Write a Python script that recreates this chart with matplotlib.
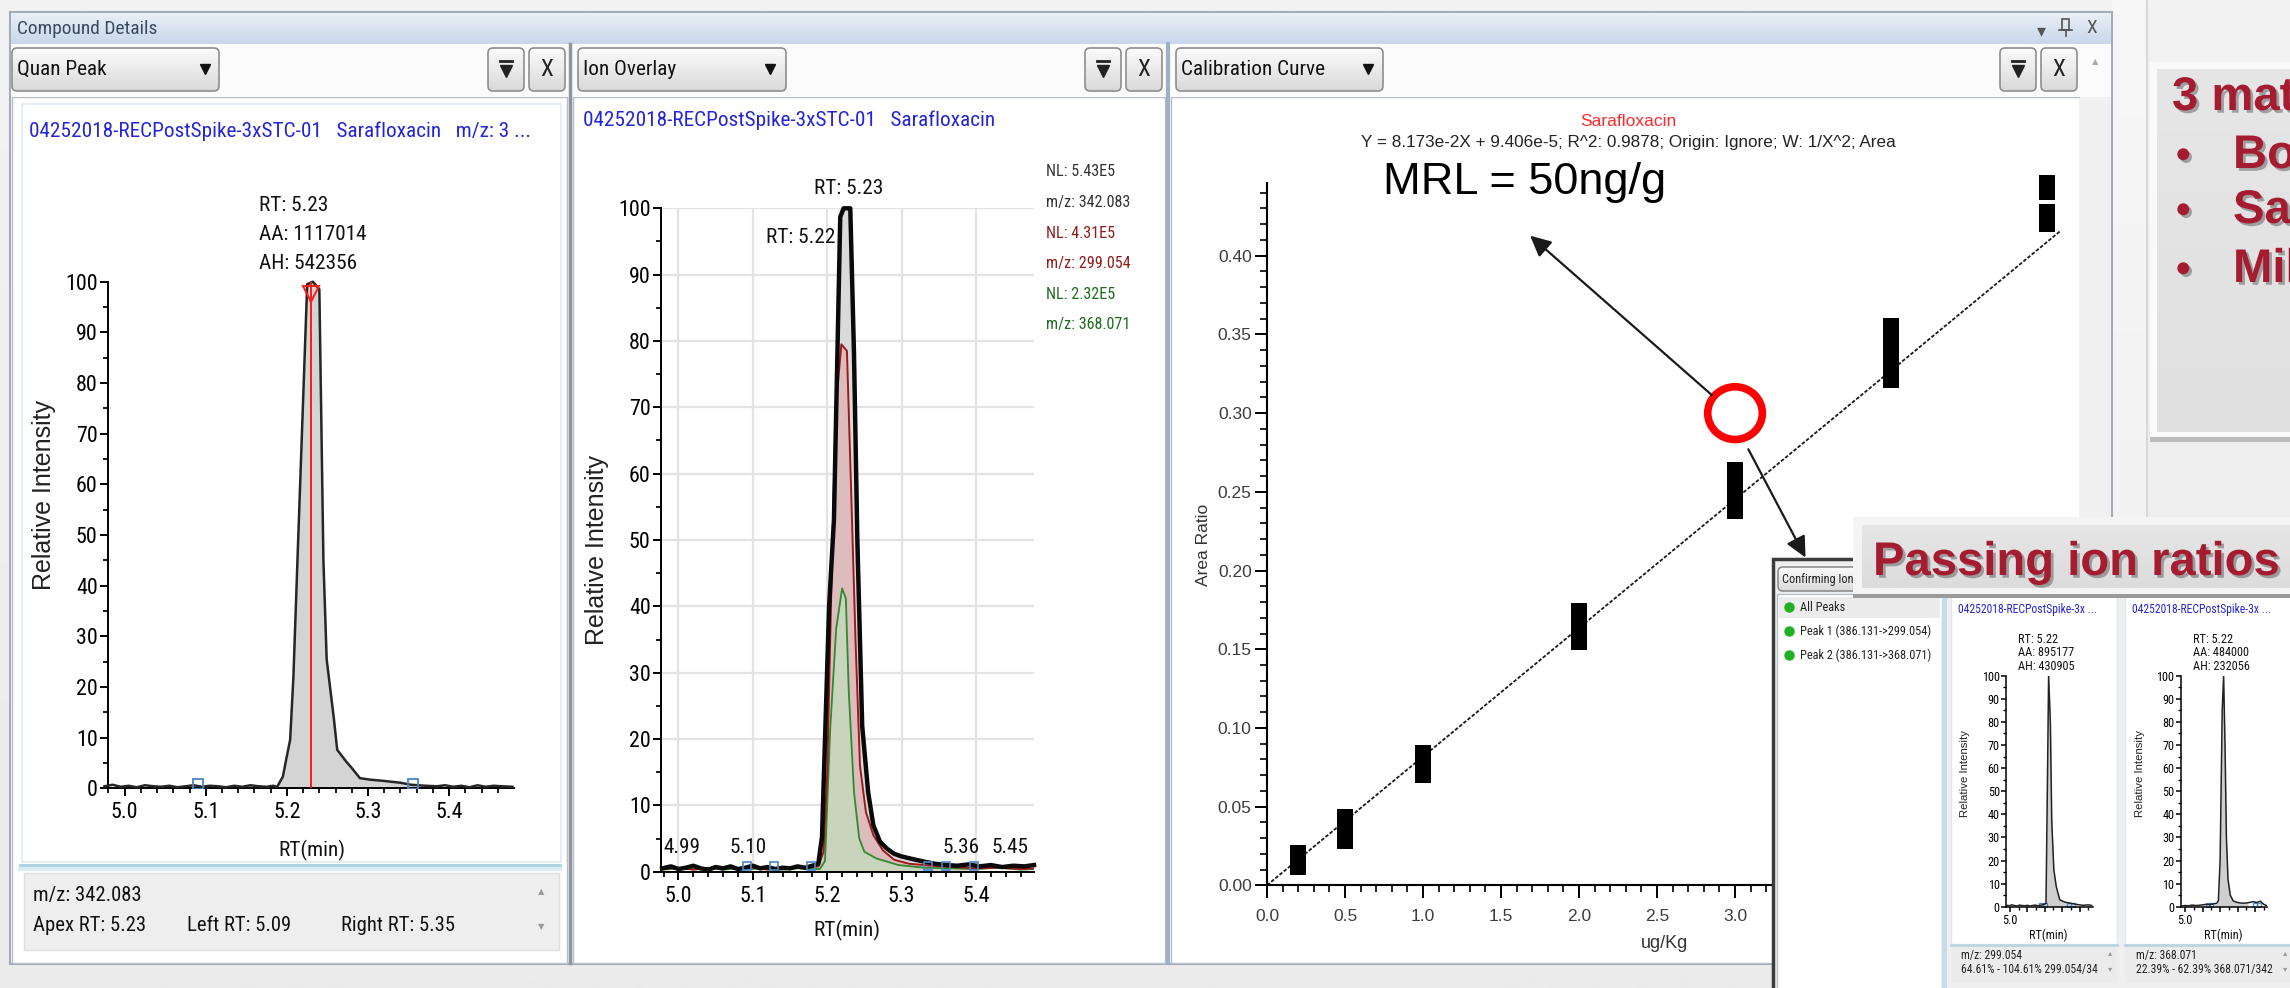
"""Sarafloxacin 'Compound Details' screen: quan peak, ion overlay, calibration
curve and the confirming-ion inset. Window chrome is drawn on a pixel-space
background axes (y pointing down) so positions can be read off the screenshot."""
import numpy as np
import matplotlib
matplotlib.use("Agg")
import matplotlib.pyplot as plt
import matplotlib.colors as mcolors
from matplotlib import font_manager as fm
from matplotlib import patches as mp
from matplotlib import patheffects as pe
from matplotlib.ticker import MultipleLocator, FormatStrFormatter, FuncFormatter

W, H = 2290, 988

# ---------------- values ----------------
# Quan Peak, m/z 342.083 (relative intensity vs RT, min)
qp_rt = [4.975, 4.985, 4.995, 5.005, 5.015, 5.025, 5.035, 5.045, 5.055, 5.065, 5.075,
         5.085, 5.095, 5.105, 5.115, 5.125, 5.135, 5.145, 5.155, 5.165, 5.175,
         5.183, 5.188, 5.195, 5.199, 5.204, 5.208, 5.213, 5.225, 5.232, 5.240, 5.245,
         5.249, 5.258, 5.262, 5.273, 5.280, 5.290, 5.303, 5.317, 5.340, 5.353, 5.371,
         5.385, 5.395, 5.405, 5.415, 5.425, 5.435, 5.445, 5.455, 5.465, 5.478]
qp_int = [0.4, 0.7, 0.3, 0.5, 0.2, 0.6, 0.4, 0.3, 0.5, 0.2, 0.4,
          0.6, 0.3, 0.5, 0.4, 0.2, 0.5, 0.3, 0.6, 0.4, 0.3,
          0.5, 0.3, 2.3, 5.6, 9.6, 22.0, 45.0, 99.5, 100.0, 98.5, 45.0,
          25.5, 13.6, 7.6, 5.3, 4.0, 2.0, 1.7, 1.5, 1.1, 0.7, 0.5,
          0.4, 0.6, 0.3, 0.5, 0.2, 0.6, 0.3, 0.5, 0.4, 0.3]
qp_apex = 5.23
qp_bounds = [5.09, 5.355]

# Ion overlay, all traces scaled to the 342.083 trace
ov_rt_342 = [4.978, 4.990, 5.000, 5.010, 5.020, 5.030, 5.040, 5.050, 5.060, 5.070, 5.080,
             5.090, 5.100, 5.110, 5.120, 5.130, 5.140, 5.150, 5.160, 5.170, 5.180,
             5.188, 5.193, 5.2025, 5.209, 5.2175, 5.222, 5.231, 5.236, 5.2405, 5.247,
             5.255, 5.262, 5.271, 5.280, 5.290, 5.300, 5.315, 5.331, 5.345, 5.360,
             5.375, 5.390, 5.405, 5.420, 5.435, 5.450, 5.465, 5.478]
ov_int_342 = [0.5, 0.8, 0.4, 0.6, 0.9, 0.5, 0.3, 0.7, 0.5, 0.8, 0.4,
              0.6, 0.9, 0.5, 0.7, 0.4, 0.6, 0.5, 0.8, 0.6, 0.9,
              1.2, 5.3, 40.0, 53.0, 98.7, 100.0, 100.0, 78.0, 50.0, 22.0,
              12.0, 7.0, 4.5, 3.5, 2.7, 2.3, 1.9, 1.5, 1.2, 1.0,
              0.9, 1.1, 0.8, 1.0, 0.7, 0.9, 0.8, 1.0]
ov_rt_299 = [4.978, 5.000, 5.020, 5.040, 5.060, 5.080, 5.100, 5.120, 5.140, 5.160, 5.180,
             5.188, 5.195, 5.200, 5.205, 5.2115, 5.219, 5.2265, 5.232, 5.238, 5.244,
             5.252, 5.262, 5.275, 5.290, 5.310, 5.340, 5.370, 5.400, 5.430, 5.460, 5.478]
ov_int_299 = [0.4, 0.6, 0.3, 0.5, 0.7, 0.4, 0.6, 0.3, 0.5, 0.6, 0.7,
              0.8, 3.0, 15.0, 40.0, 70.0, 79.5, 78.5, 58.0, 35.0, 16.0,
              9.0, 5.5, 3.2, 1.8, 1.2, 0.9, 0.7, 0.5, 0.6, 0.4, 0.5]
ov_rt_368 = [4.978, 5.000, 5.020, 5.040, 5.060, 5.080, 5.100, 5.120, 5.140, 5.160, 5.180,
             5.190, 5.197, 5.204, 5.212, 5.220, 5.225, 5.229, 5.236, 5.243, 5.250,
             5.266, 5.296, 5.330, 5.370, 5.400, 5.430, 5.460, 5.478]
ov_int_368 = [0.3, 0.5, 0.4, 0.6, 0.3, 0.5, 0.4, 0.6, 0.3, 0.5, 0.4,
              0.4, 1.6, 21.5, 36.6, 42.7, 41.2, 27.0, 12.0, 5.0, 3.0,
              2.0, 1.0, 0.6, 0.5, 0.4, 0.6, 0.3, 0.4]
ov_marks = [5.092, 5.129, 5.178, 5.336, 5.360, 5.397]
ov_peak_lab = ["4.99", "5.10", "5.36", "5.45"]
ov_peak_lab_rt = [5.005, 5.094, 5.380, 5.446]
ov_nl = ["NL: 5.43E5", "m/z: 342.083", "NL: 4.31E5", "m/z: 299.054", "NL: 2.32E5", "m/z: 368.071"]

# Calibration: each level is a low-high block of area ratio
cal_x = [0.2, 0.5, 1.0, 2.0, 3.0, 4.0, 5.0, 5.0]
cal_lo = [0.0064, 0.0234, 0.0649, 0.1496, 0.2326, 0.3160, 0.4151, 0.4355]
cal_hi = [0.0255, 0.0483, 0.0894, 0.1795, 0.2692, 0.3605, 0.4330, 0.4513]
fit_slope, fit_icpt, fit_xmax = 8.173e-2, 9.406e-5, 5.09
mrl_x, mrl_y = 3.0, 0.30

# Confirming ions inset
ci_rt_299 = [4.980, 4.995, 5.010, 5.025, 5.040, 5.055, 5.070, 5.085, 5.100, 5.115, 5.130,
             5.145, 5.160, 5.175, 5.185, 5.195, 5.207, 5.217, 5.222, 5.232, 5.240,
             5.252, 5.266, 5.286, 5.315, 5.355, 5.390, 5.420, 5.450, 5.470]
ci_int_299 = [0.6, 0.4, 0.8, 0.5, 0.3, 0.7, 0.5, 0.4, 0.6, 0.3, 0.5,
              0.7, 0.4, 0.6, 0.8, 1.0, 1.4, 66.0, 100.0, 80.0, 37.0,
              16.0, 8.7, 3.0, 2.0, 1.4, 0.9, 0.6, 0.8, 0.5]
ci_rt_368 = [4.980, 5.000, 5.020, 5.040, 5.060, 5.080, 5.100, 5.120, 5.140, 5.160, 5.180,
             5.190, 5.200, 5.212, 5.220, 5.228, 5.236, 5.245, 5.258, 5.275, 5.300,
             5.330, 5.360, 5.390, 5.410, 5.430, 5.450, 5.465]
ci_int_368 = [0.3, 0.5, 0.4, 0.7, 0.5, 0.6, 0.8, 1.0, 0.9, 1.2, 1.5,
              2.5, 20.0, 85.0, 100.0, 70.0, 30.0, 12.0, 5.0, 2.5, 1.8,
              1.5, 1.7, 2.2, 1.8, 2.4, 1.0, 0.5]
ci_marks_299 = [5.180, 5.200, 5.340, 5.360]
ci_marks_368 = [5.130, 5.150, 5.400, 5.420]
ci_list = ["All Peaks", "Peak 1 (386.131->299.054)", "Peak 2 (386.131->368.071)"]

# ---------------- fonts ----------------
def pick_narrow():
    """The screenshot uses a narrow UI face; take the closest one installed."""
    fonts = fm.fontManager.ttflist
    names = {f.name for f in fonts}
    for fam, scale in (("Liberation Sans Narrow", 1.0), ("Arial Narrow", 1.0),
                       ("Noto Sans Condensed", 1.0), ("Roboto Condensed", 0.93),
                       ("Open Sans Condensed", 0.95)):
        if fam in names:
            return fm.FontProperties(family=fam), scale
    for fam in ("Noto Sans", "Open Sans", "Roboto"):
        if any(f.name == fam and f.stretch == "condensed" for f in fonts):
            return fm.FontProperties(family=fam, stretch="condensed"), 1.0
    return fm.FontProperties(family="Liberation Sans"), 0.84

NFP, NS = pick_narrow()
plt.rcParams.update({"font.family": ["Liberation Sans", "DejaVu Sans"], "font.size": 12})
BLUE, RED = "#2424d8", "#a51c30"
SHADOW = [pe.SimplePatchShadow(offset=(2, -2), shadow_rgbFace="#000000", alpha=0.3), pe.Normal()]


def nfp(size):
    p = NFP.copy()
    p.set_size(size * NS)
    return p


def pixel_space(ax):
    ax.set_xlim(0, W); ax.set_ylim(H, 0); ax.axis("off")


def box(ax, x0, y0, x1, y1, fc, ec="none", lw=0.0, z=1, r=None):
    if r:
        p = mp.FancyBboxPatch((x0, y0), x1 - x0, y1 - y0, boxstyle=f"round,pad=0,rounding_size={r}",
                              fc=fc, ec=ec, lw=lw, zorder=z)
    else:
        p = mp.Rectangle((x0, y0), x1 - x0, y1 - y0, fc=fc, ec=ec, lw=lw, zorder=z)
    ax.add_patch(p)
    return p


def grad(ax, x0, y0, x1, y1, c0, c1, z=1, clip=None):
    rgb = np.linspace(mcolors.to_rgb(c0), mcolors.to_rgb(c1), 48)[:, None, :]
    im = ax.imshow(rgb, extent=(x0, x1, y1, y0), aspect="auto", interpolation="bilinear", zorder=z)
    if clip is not None:
        im.set_clip_path(clip)
    return im


def nt(ax, x, y, s, size, **kw):
    kw.setdefault("va", "center")
    return ax.text(x, y, s, fontproperties=nfp(size), **kw)


def combo(ax, x0, y0, x1, y1, label=None, arrow_x=None, z=2):
    p = box(ax, x0, y0, x1, y1, "none", ec="#8e8e8e", lw=1.2, z=z + 1, r=5)
    grad(ax, x0, y0, x1, y1, "#fbfbfb", "#d9d9d9", z=z, clip=p)
    if label:
        nt(ax, x0 + 5, (y0 + y1) / 2, label, 16.5, color="#111", zorder=z + 2)
    if arrow_x:
        ax.plot(arrow_x, (y0 + y1) / 2, marker="v", ms=7, color="#111", zorder=z + 2)


def buttons(ax, x0, y0, y1):
    combo(ax, x0, y0, x0 + 36, y1)
    combo(ax, x0 + 41, y0, x0 + 77, y1)
    cx, cy = x0 + 18, (y0 + y1) / 2
    ax.plot([cx - 6, cx + 6], [cy - 8, cy - 8], color="#222", lw=2, zorder=5)
    ax.plot(cx, cy + 2, marker="v", ms=9, color="#222", zorder=5)
    nt(ax, x0 + 59, cy, "X", 18, ha="center", color="#222", zorder=5)


def px_ax(x0, y0, x1, y1, z=2):
    ax = fig.add_axes([x0 / W, 1 - y1 / H, (x1 - x0) / W, (y1 - y0) / H], zorder=z)
    ax.patch.set_alpha(0)
    return ax


def narrow_ticks(ax, size):
    for lab in ax.get_xticklabels(which="both") + ax.get_yticklabels(which="both"):
        lab.set_fontproperties(nfp(size))


def style_chrom(ax, xlim, size, tick=(6, 3.5), pad=(4, 1.5), lw=1.4, xminor=0.02):
    ax.set_xlim(*xlim); ax.set_ylim(0, 100)
    ax.spines[["top", "right"]].set_visible(False)
    ax.spines[["left", "bottom"]].set_linewidth(lw)
    ax.xaxis.set_major_locator(MultipleLocator(0.1))
    ax.xaxis.set_minor_locator(MultipleLocator(xminor))
    ax.yaxis.set_major_locator(MultipleLocator(10))
    ax.yaxis.set_minor_locator(MultipleLocator(5))
    ax.xaxis.set_major_formatter(FormatStrFormatter("%.1f"))
    ax.yaxis.set_major_formatter(FormatStrFormatter("%d"))
    ax.tick_params(which="major", length=tick[0], width=lw)
    ax.tick_params(which="minor", length=tick[1], width=lw * 0.9)
    ax.tick_params(axis="x", which="major", pad=pad[0])
    ax.tick_params(axis="y", which="major", pad=pad[1])


fig = plt.figure(figsize=(W / 100, H / 100), dpi=100)
fig.patch.set_facecolor("#efefef")

# ---------------- background chrome ----------------
bg = fig.add_axes([0, 0, 1, 1], zorder=0)
pixel_space(bg)
grad(bg, 0, 0, W, H, "#f2f2f2", "#ebebeb", z=0)
grad(bg, 2112, 0, 2148, H, "#f7f7f7", "#eeeeee", z=0.5)
bg.plot([2147, 2147], [0, H], color="#d2d2d2", lw=1.2, zorder=0.6)

# note box on the slide, cut by the right edge
box(bg, 2150, 66, 2300, 442, "#bdbdbd")
box(bg, 2150, 62, 2300, 437, "#fafafa")
grad(bg, 2157, 70, 2300, 432, "#e6e6e6", "#e0e0e0", z=1.2)
bg.text(2172, 110, "3 mat", fontsize=34, fontweight="bold", color=RED, va="baseline", path_effects=SHADOW)
for yb, word in zip([168, 223, 282], ["Bo", "Sa", "Mil"]):
    bg.text(2176, yb, "\u2022", fontsize=30, fontweight="bold", color=RED, va="baseline", path_effects=SHADOW)
    bg.text(2233, yb, word, fontsize=34, fontweight="bold", color=RED, va="baseline", path_effects=SHADOW)

# software window
box(bg, 10, 12, 2112, 964, "#f7f8fa", ec="#a3acb8", lw=1.5)
grad(bg, 11, 13, 2111, 44, "#e9eff7", "#c9d7ea", z=1.5)
nt(bg, 17, 29, "Compound Details", 15, color="#3b4b5d")
bg.text(2041, 31, "\u25be", fontsize=13, color="#555", ha="center", va="center", family="DejaVu Sans")
box(bg, 2062, 19, 2069, 30, "none", ec="#555", lw=1.2, z=3)
bg.plot([2059, 2072], [30, 30], color="#555", lw=1.2)
bg.plot([2065.5, 2065.5], [30, 36], color="#555", lw=1.2)
nt(bg, 2092, 28, "X", 15, ha="center", color="#555")
box(bg, 11, 44, 2111, 97, "#fbfbfb", z=1.5)

combo(bg, 12, 48, 219, 91, "Quan Peak", arrow_x=205)
buttons(bg, 488, 48, 91)
combo(bg, 578, 48, 786, 91, "Ion Overlay", arrow_x=770)
buttons(bg, 1085, 48, 91)
combo(bg, 1176, 48, 1383, 91, "Calibration Curve", arrow_x=1368)
buttons(bg, 2000, 48, 91)
bg.text(2095, 62, "\u25b2", fontsize=6, color="#aaa", ha="center", va="center", family="DejaVu Sans")

# panel bodies
box(bg, 12, 97, 567, 963, "white", ec="#b5bec9", lw=1)
box(bg, 22, 104, 561, 862, "none", ec="#e3eaf2", lw=1.2, z=2)
box(bg, 573, 97, 1165, 963, "white", ec="#b5bec9", lw=1)
box(bg, 1171, 97, 2080, 963, "white", ec="#b5bec9", lw=1)
box(bg, 2080, 97, 2111, 963, "#f0f0f0")
bg.plot([569.5, 569.5], [44, 963], color="#8f959c", lw=2.5, zorder=2)
bg.plot([1168, 1168], [44, 963], color="#9fb0c2", lw=3, zorder=2)

# panel 1 footer
bg.plot([20, 560], [865, 865], color="#a8cfe0", lw=2, zorder=2)
bg.plot([20, 560], [869, 869], color="#d9ebf3", lw=3, zorder=2)
box(bg, 24, 873, 559, 950, "#eeeeee", ec="#dedede", lw=1, z=2)
nt(bg, 33, 895, "m/z: 342.083", 16, color="#111")
nt(bg, 33, 925, "Apex RT: 5.23", 16, color="#111")
nt(bg, 187, 925, "Left RT: 5.09", 16, color="#111")
nt(bg, 341, 925, "Right RT: 5.35", 16, color="#111")
bg.text(541, 892, "\u25b2", fontsize=6, color="#999", ha="center", va="center", family="DejaVu Sans")
bg.text(541, 927, "\u25bc", fontsize=6, color="#999", ha="center", va="center", family="DejaVu Sans")

# panel titles and peak annotations
nt(bg, 29, 131, "04252018-RECPostSpike-3xSTC-01   Sarafloxacin   m/z: 3 ...", 16.5, color=BLUE)
nt(bg, 583, 120, "04252018-RECPostSpike-3xSTC-01   Sarafloxacin", 16.5, color=BLUE)
for yy, s in zip([205, 234, 263], ["RT: 5.23", "AA: 1117014", "AH: 542356"]):
    nt(bg, 259, yy, s, 16.5, color="#111")
nl_cols = ["#333333", "#333333", "#8e1b1b", "#8e1b1b", "#1d6b1d", "#1d6b1d"]
for i, (s, c) in enumerate(zip(ov_nl, nl_cols)):
    nt(bg, 1046, 172 + i * 30.5, s, 12.5, color=c)
bg.text(44, 495, "Relative Intensity", fontsize=18, rotation=90, ha="center", va="center", color="#222")
bg.text(597, 550, "Relative Intensity", fontsize=18, rotation=90, ha="center", va="center", color="#222")
nt(bg, 312, 850, "RT(min)", 16.5, ha="center", color="#111")
nt(bg, 847, 930, "RT(min)", 16.5, ha="center", color="#111")

# calibration titles
bg.text(1628, 121, "Sarafloxacin", fontsize=12.5, color="#ff2a2a", ha="center", va="center")
bg.text(1628, 143, "Y = 8.173e-2X + 9.406e-5; R^2: 0.9878; Origin: Ignore; W: 1/X^2; Area",
        fontsize=12.3, color="#222", ha="center", va="center")
bg.text(1383, 194, "MRL = 50ng/g", fontsize=32.5, color="black", va="baseline", zorder=4)
bg.text(1203, 545, "Area Ratio", fontsize=12.5, rotation=90, ha="center", va="center", color="#333")
bg.text(1664, 943, "ug/Kg", fontsize=13, ha="center", va="center", color="#333")

# ---------------- Quan Peak ----------------
ax1 = px_ax(108, 281.7, 513.6, 788.3)
style_chrom(ax1, (4.9794, 5.4795), 17)
narrow_ticks(ax1, 17)
rt, it = np.array(qp_rt), np.array(qp_int)
ax1.fill_between(rt, it, 0, where=(rt >= qp_bounds[0]) & (rt <= qp_bounds[1]),
                 color="#d4d4d4", lw=0, interpolate=True, zorder=1)
ax1.plot(rt, it, color="#262626", lw=1.8, zorder=3, clip_on=False)
ax1.plot([qp_apex, qp_apex], [0, 100], color="#ff1a1a", lw=1.4, zorder=4)
ax1.plot(qp_apex, 97.5, marker="v", ms=11, mfc="none", mec="#ff1a1a", mew=1.4, zorder=5, clip_on=False)
ax1.plot(qp_bounds, [0.8, 0.8], ls="none", marker="s", ms=7, mfc="none", mec="#4a86c5", mew=1.3, zorder=5)

# ---------------- Ion Overlay ----------------
ax2 = px_ax(661, 208.3, 1034, 871.7)
style_chrom(ax2, (4.9765, 5.478), 17)
narrow_ticks(ax2, 17)
ax2.grid(True, which="major", color="#e3e3e3", lw=1.6)
ax2.set_axisbelow(True)
for rts, ints, fc in [(ov_rt_342, ov_int_342, "#dadada"), (ov_rt_299, ov_int_299, "#dcbcbc"),
                      (ov_rt_368, ov_int_368, "#c9d4bd")]:
    r, v = np.array(rts), np.array(ints)
    ax2.fill_between(r, v, 0, where=(r >= 5.18) & (r <= 5.37), color=fc, lw=0, interpolate=True, zorder=1)
ax2.plot(ov_rt_368, ov_int_368, color="#2e8b2e", lw=1.3, zorder=3)
ax2.plot(ov_rt_299, ov_int_299, color="#a01818", lw=1.4, zorder=3)
ax2.plot(ov_rt_342, ov_int_342, color="#0a0a0a", lw=3.2, zorder=4, clip_on=False)
ax2.plot(ov_marks, [0.9] * len(ov_marks), ls="none", marker="s", ms=6, mfc="none", mec="#4a86c5",
         mew=1.2, zorder=5)
for s, x in zip(ov_peak_lab, ov_peak_lab_rt):
    nt(ax2, x, 3.6, s, 16.5, ha="center", color="#111", zorder=6)
nt(ax2, 849, 188, "RT: 5.23", 16.5, ha="center", color="#111", transform=bg.transData, clip_on=False)
nt(ax2, 835, 237, "RT: 5.22", 16.5, ha="right", color="#111", transform=bg.transData, clip_on=False)

# ---------------- Calibration Curve ----------------
ax3 = px_ax(1267, 183.3, 2070, 885.4)
ax3.set_xlim(0, 5.147); ax3.set_ylim(0, 0.446)
ax3.spines[["top", "right"]].set_visible(False)
ax3.spines[["left", "bottom"]].set_linewidth(1.5)
ax3.xaxis.set_major_locator(MultipleLocator(0.5)); ax3.xaxis.set_minor_locator(MultipleLocator(0.1))
ax3.yaxis.set_major_locator(MultipleLocator(0.05)); ax3.yaxis.set_minor_locator(MultipleLocator(0.01))
ax3.xaxis.set_major_formatter(FormatStrFormatter("%.1f"))
ax3.yaxis.set_major_formatter(FormatStrFormatter("%.2f"))
ax3.tick_params(which="major", length=9, width=1.4, labelsize=12.5, labelcolor="#3c3c3c", pad=2)
ax3.tick_params(axis="x", which="major", pad=8)
ax3.tick_params(which="minor", length=5, width=1.2)
fx = np.array([0.0, fit_xmax])
ax3.plot(fx, fit_slope * fx + fit_icpt, color="#1a1a1a", lw=1.3, ls=(0, (2, 1)), zorder=2)
ax3.bar(cal_x, np.subtract(cal_hi, cal_lo), bottom=cal_lo, width=0.1, color="black",
        zorder=3, clip_on=False)
ax3.add_patch(mp.Ellipse((mrl_x, mrl_y), 0.35, 0.0335, fill=False, ec="#ff0000", lw=5.5,
                         zorder=4, clip_on=False))
arrow_kw = dict(arrowstyle="-|>,head_length=0.45,head_width=0.22", mutation_scale=28,
                color="#1a1a1a", lw=1.6, transform=ax3.transData, zorder=10)
fig.add_artist(mp.FancyArrowPatch((2.865, 0.3103), (1.673, 0.4139), **arrow_kw))
fig.add_artist(mp.FancyArrowPatch((3.077, 0.2786), (3.46, 0.2067), **arrow_kw))

# ---------------- Confirming ions inset ----------------
ov = fig.add_axes([0, 0, 1, 1], zorder=4)
pixel_space(ov)
box(ov, 1773, 559, 2300, 995, "#efefef", ec="#3b3b3b", lw=2.5)
combo(ov, 1778, 567, 1885, 591)
nt(ov, 1782, 579, "Confirming Ions", 9.5, color="#222", zorder=4)
box(ov, 1777, 594, 1942, 995, "white", ec="#b7c0ca", lw=1)
box(ov, 1779, 597, 1940, 618, "#ececec", z=1.5)
for i, s in enumerate(ci_list):
    ov.plot(1789, 607 + 24 * i, marker="o", ms=6.5, color="#22b022", zorder=3)
    nt(ov, 1800, 607 + 24 * i, s, 9.5, color="#222")
box(ov, 1942, 594, 1947, 995, "#c6dcea")
for x0, x1 in [(1951, 2117), (2125, 2300)]:
    box(ov, x0, 597, x1, 944, "white", ec="#e1e8ef", lw=1)
    box(ov, x0, 945, x1, 983, "#ebebeb", z=1.5)
    ov.plot([x0, x1], [945, 945], color="#b9d5e3", lw=2, zorder=2)
    nt(ov, x0 + 7, 609, "04252018-RECPostSpike-3x ...", 9, color=BLUE)
for xa, vals, info in [(2018, ["RT: 5.22", "AA: 895177", "AH: 430905"], ["m/z: 299.054", "64.61% - 104.61% 299.054/34"]),
                       (2193, ["RT: 5.22", "AA: 484000", "AH: 232056"], ["m/z: 368.071", "22.39% - 62.39% 368.071/342"])]:
    for k, s in enumerate(vals):
        nt(ov, xa, 639 + 13.5 * k, s, 9.5, color="#111")
    nt(ov, xa - 57, 955, info[0], 9, color="#222")
    nt(ov, xa - 57, 969, info[1], 9, color="#222")
for xs in (2110, 2285):
    ov.text(xs, 953, "\u25b4", fontsize=6, color="#999", ha="center", va="center", family="DejaVu Sans", zorder=3)
    ov.text(xs, 969, "\u25be", fontsize=6, color="#999", ha="center", va="center", family="DejaVu Sans", zorder=3)
for xl, xr in [(1965, 2048), (2140, 2223)]:
    ov.text(xl, 773, "Relative Intensity", fontsize=8.2, rotation=90, ha="center", va="center", color="#222")
    nt(ov, xr, 935, "RT(min)", 9.5, ha="center", color="#111")

only_50 = FuncFormatter(lambda v, p: "5.0" if abs(v - 5.0) < 1e-6 else "")
for (x0, x1), xlim, rts, ints, marks in [((2006, 2092.8), (4.977, 5.476), ci_rt_299, ci_int_299, ci_marks_299),
                                         ((2180.6, 2266.8), (4.974, 5.467), ci_rt_368, ci_int_368, ci_marks_368)]:
    axi = px_ax(x0, 675.7, x1, 906.7, z=5)
    style_chrom(axi, xlim, 9.5, tick=(3.5, 2), pad=(2, 1), lw=1.1, xminor=0.05)
    axi.xaxis.set_major_formatter(only_50)
    narrow_ticks(axi, 9.5)
    r, v = np.array(rts), np.array(ints)
    axi.fill_between(r, v, 0, where=(r >= 5.18) & (r <= 5.36), color="#cfcfcf", lw=0, interpolate=True)
    axi.plot(r, v, color="#222", lw=1.1, zorder=3)
    axi.plot(marks, [0.8] * len(marks), ls="none", marker="s", ms=3.5, mfc="none", mec="#4a86c5", mew=0.9)

# banner on top of the inset
box(ov, 1853, 517, 2300, 598, "#9a9a9a", z=6)
box(ov, 1853, 517, 2300, 594, "#f4f4f4", z=6)
grad(ov, 1862, 525, 2300, 588, "#e6e6e6", "#dcdcdc", z=6.2)
ov.text(1873, 575, "Passing ion ratios", fontsize=34, fontweight="bold", color=RED, va="baseline",
        zorder=7, path_effects=SHADOW)

fig.savefig("out.png", dpi=100)
